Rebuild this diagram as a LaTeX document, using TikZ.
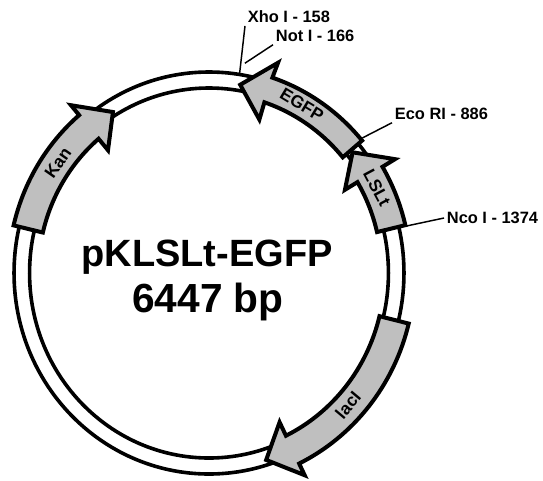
\documentclass[tikz,border=0pt]{standalone}
\usepackage{fontspec}
\setmainfont{Liberation Sans}
\newcommand{\feat}[9]{%
 \draw[feature] (#1:#4) arc[start angle=#1,end angle=#2,radius=#4] -- (#3:#6) -- (#8:#9) -- (#3:#7) -- (#2:#5) arc[start angle=#2,end angle=#1,radius=#5] -- cycle;}
\tikzset{
 px/.style={x=0.75pt,y=-0.75pt},
 ringline/.style={line width=2.7pt,draw=black},
 feature/.style={line width=3pt,draw=black,fill=black!25,line join=miter},
 site/.style={font=\bfseries\fontsize{12.3}{14}\selectfont,inner sep=2pt,anchor=west},
 sitelink/.style={line width=1.1pt,draw=black},
 fname/.style={font=\bfseries\fontsize{13}{15}\selectfont,inner sep=0pt},
 title/.style={font=\bfseries\fontsize{28.5}{32}\selectfont,inner sep=0pt},
 titleb/.style={font=\bfseries\fontsize{30.5}{34}\selectfont,inner sep=0pt}
}
\begin{document}
\begin{tikzpicture}[px]
\useasboundingbox (0,0) rectangle (543,480);
\begin{scope}[shift={(209,273)},xscale=0.97,y=0.75pt]
 \draw[ringline] (0,0) circle[radius=201];
 \draw[ringline] (0,0) circle[radius=185];
 \coordinate (xhoend) at (81:201);
 \coordinate (notend) at (80:213);
 \coordinate (ecoend) at (40.5:208);
 \coordinate (ncoend) at (13:209);
 \feat{40}{71.5}{71.3}{206}{180}{222}{162}{80.3}{191}
 \feat{13.3}{30.7}{30.7}{208}{178}{223}{163}{39.2}{191}
 \feat{166.7}{130.3}{130.3}{207}{176}{220}{161}{121.6}{189}
 \feat{-13.8}{-64}{-64}{212}{181}{225}{166}{-72.5}{196}
\end{scope}
\node[site] (xho) at (245,17) {Xho I - 158};
\node[site] (not) at (273,36) {Not I - 166};
\node[site] (eco) at (392,114) {Eco RI - 886};
\node[site] (nco) at (444,218) {Nco I - 1374};
\draw[sitelink] (xho.south west) -- (xhoend);
\draw[sitelink] (not.south west) -- (notend);
\draw[sitelink] (eco.south west) -- (ecoend);
\draw[sitelink] (nco.west) -- (ncoend);
\node[fname,rotate=-31] (egfp) at (302,105) {EGFP};
\node[fname,rotate=-62] (lslt) at (377,188) {LSLt};
\node[fname,rotate=55] (kan) at (58,163) {Kan};
\node[fname,rotate=50] (laci) at (348,405) {lacI};
\node[title] (name) at (207,257) {pKLSLt-EGFP};
\node[titleb] (size) at (208,302) {6447 bp};
\end{tikzpicture}
\end{document}
